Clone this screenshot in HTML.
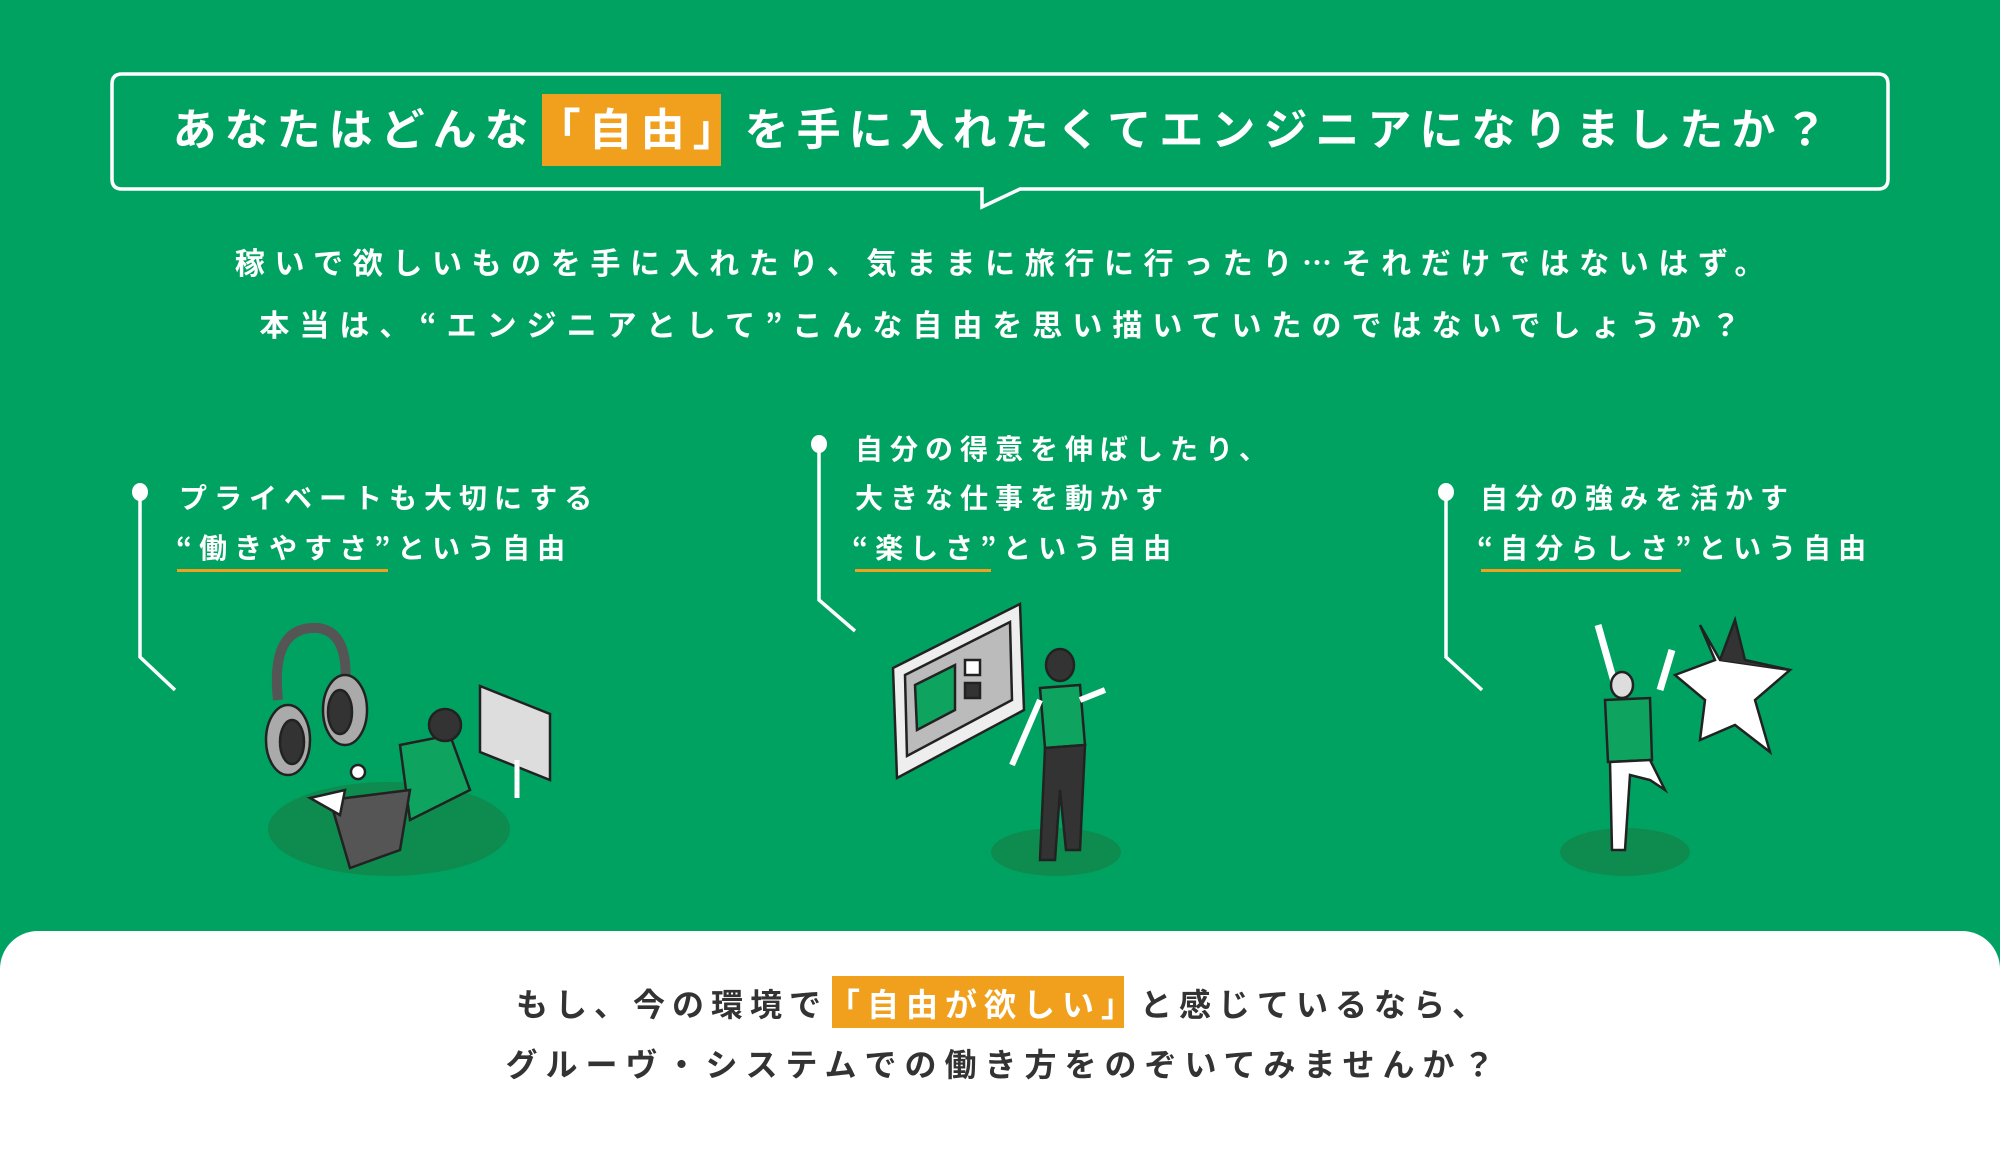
<!DOCTYPE html>
<html><head><meta charset="utf-8"><style>
html,body{margin:0;padding:0}
body{width:2000px;height:1125px;background:#00A262;position:relative;overflow:hidden;font-family:"Liberation Sans","Noto Sans CJK JP",sans-serif;font-weight:bold}
.abs{position:absolute}
.line{position:absolute;left:0;width:2000px;text-align:center;white-space:nowrap;color:#fff}
.ct{position:absolute;color:#fff;font-size:28px;letter-spacing:7px;white-space:nowrap;line-height:1}
.ul{position:absolute;height:3px;background:#F0A01C}
</style></head><body>
<svg class="abs" style="left:0;top:0" width="2000" height="1125">
 <path d="M122 74 H1878 Q1888 74 1888 84 V179 Q1888 189 1878 189 H1020 L982 207 L982 189 H122 Q112 189 112 179 V84 Q112 74 122 74 Z" fill="none" stroke="#fff" stroke-width="3.5"/>
 <rect x="542" y="94" width="179" height="72" fill="#F0A01C"/>
 <g stroke="#fff" stroke-width="3.5" fill="none">
  <path d="M140 492 V657 L175 690"/>
  <path d="M819 444 V600 L855 631"/>
  <path d="M1446 492 V657 L1482 690"/>
 </g>
 <g fill="#fff"><ellipse cx="140" cy="492" rx="8" ry="9"/><ellipse cx="819" cy="444" rx="8" ry="9"/><ellipse cx="1446" cy="492" rx="8" ry="9"/></g>
 <g fill="#0E8B4F"><ellipse cx="389" cy="829" rx="121" ry="47"/><ellipse cx="1056" cy="852" rx="65" ry="24"/><ellipse cx="1625" cy="852" rx="65" ry="24"/></g>
 <g stroke="#222" stroke-width="2.5">
  <path d="M278 700 Q270 625 318 628 Q350 632 345 690" fill="none" stroke="#555" stroke-width="10"/>
  <ellipse cx="288" cy="740" rx="22" ry="35" fill="#aaa"/><ellipse cx="292" cy="742" rx="12" ry="22" fill="#333"/>
  <ellipse cx="345" cy="710" rx="22" ry="35" fill="#aaa"/><ellipse cx="340" cy="712" rx="12" ry="22" fill="#333"/>
  <path d="M480 686 L550 714 L550 780 L480 752 Z" fill="#ddd"/>
  <line x1="517" y1="760" x2="517" y2="798" stroke="#fff" stroke-width="5"/>
  <path d="M400 745 L450 735 L470 790 L410 820 Z" fill="#0EA35E"/>
  <path d="M330 800 L410 790 L400 850 L350 868 Z" fill="#555"/>
  <ellipse cx="445" cy="725" rx="16" ry="16" fill="#333"/>
  <path d="M310 798 L345 790 L340 815 Z" fill="#fff"/>
  <circle cx="358" cy="772" r="7" fill="#fff"/>
 </g>
 <g stroke="#222" stroke-width="2.5">
  <path d="M893 668 L1020 604 L1024 710 L897 778 Z" fill="#eee"/>
  <path d="M905 675 L1010 622 L1012 700 L907 756 Z" fill="#bbb"/>
  <path d="M915 685 L955 665 L955 710 L917 730 Z" fill="#0EA35E"/>
  <rect x="965" y="660" width="15" height="15" fill="#fff"/><rect x="965" y="683" width="15" height="15" fill="#333"/>
  <ellipse cx="1060" cy="665" rx="14" ry="16" fill="#333"/>
  <path d="M1040 688 L1080 685 L1085 745 L1045 748 Z" fill="#0EA35E"/>
  <path d="M1045 748 L1085 745 L1080 850 L1066 850 L1060 790 L1055 860 L1040 860 Z" fill="#333"/>
  <path d="M1040 700 L1012 765" stroke="#fff" stroke-width="6"/>
  <path d="M1080 700 L1105 690" stroke="#fff" stroke-width="6"/>
 </g>
 <g stroke="#222" stroke-width="2.5">
  <path d="M1700 625 L1720 660 L1790 670 L1755 700 L1770 752 L1735 725 L1700 740 L1705 700 L1675 675 L1715 660 Z" fill="#fff"/>
  <path d="M1720 660 L1735 620 L1745 660 L1790 670" fill="#333"/>
  <path d="M1598 625 L1615 685" stroke="#fff" stroke-width="7"/>
  <path d="M1660 690 L1672 650" stroke="#fff" stroke-width="7"/>
  <ellipse cx="1622" cy="685" rx="11" ry="13" fill="#ddd"/>
  <path d="M1605 700 L1650 698 L1652 760 L1608 762 Z" fill="#0EA35E"/>
  <path d="M1610 762 L1650 760 L1665 790 L1650 780 L1630 775 L1625 850 L1612 850 Z" fill="#fff"/>
 </g>
</svg>
<div class="line" style="top:102px;font-size:44px;letter-spacing:8px;padding-left:8px;box-sizing:border-box;line-height:58px">あなたはどんな「自由」を手に入れたくてエンジニアになりましたか？</div>
<div class="line" style="top:241px;font-size:30px;letter-spacing:9.6px;padding-left:9px;box-sizing:border-box;line-height:40px;font-family:'Noto Sans CJK JP',sans-serif">稼いで欲しいものを手に入れたり、気ままに旅行に行ったり…それだけではないはず。</div>
<div class="line" style="top:303px;font-size:30px;letter-spacing:10px;padding-left:10px;box-sizing:border-box;line-height:40px;font-family:'Noto Sans CJK JP',sans-serif">本当は、“エンジニアとして”こんな自由を思い描いていたのではないでしょうか？</div>

<div class="ct" style="left:179px;top:485px">プライベートも大切にする</div>
<div class="ct" style="left:176px;top:533px;font-family:'Noto Sans CJK JP',sans-serif">“働きやすさ”という自由</div>
<div class="ul" style="left:177px;top:569px;width:211px"></div>

<div class="ct" style="left:855px;top:436px">自分の得意を伸ばしたり、</div>
<div class="ct" style="left:855px;top:485px">大きな仕事を動かす</div>
<div class="ct" style="left:852px;top:533px;font-family:'Noto Sans CJK JP',sans-serif">“楽しさ”という自由</div>
<div class="ul" style="left:855px;top:569px;width:136px"></div>

<div class="ct" style="left:1480px;top:485px">自分の強みを活かす</div>
<div class="ct" style="left:1477px;top:533px;font-family:'Noto Sans CJK JP',sans-serif">“自分らしさ”という自由</div>
<div class="ul" style="left:1481px;top:569px;width:200px"></div>

<div class="abs" style="left:0;top:931px;width:2000px;height:220px;background:#fff;border-radius:38px 38px 0 0"></div>
<div class="abs" style="left:832px;top:976px;width:292px;height:52px;background:#F0A01C"></div>
<div class="line" style="top:984px;font-size:32px;letter-spacing:7px;padding-left:7px;box-sizing:border-box;line-height:42px;color:#333"><span>もし、今の環境で<span style="color:#fff">「自由が欲しい」</span>と感じているなら、</span></div>
<div class="line" style="top:1044px;font-size:32px;letter-spacing:8px;padding-left:8px;box-sizing:border-box;line-height:42px;color:#333">グルーヴ・システムでの働き方をのぞいてみませんか？</div>
</body></html>
